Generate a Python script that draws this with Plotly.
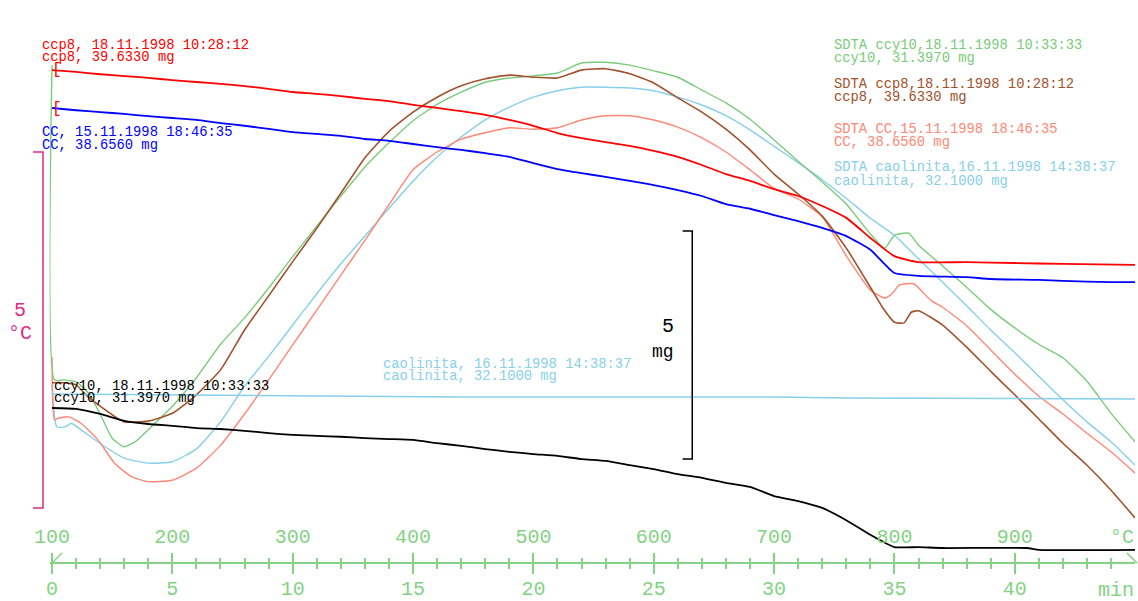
import plotly.graph_objects as go

W, H = 1138, 601

# ---------------- data ----------------
# heating programme: 100 °C at 0 min, 20 K/min
T0 = 100.0
RATE = 20.0

# SDTA ccy10 (°C, relative)
t_sdta_ccy10 = [0, 0.1, 0.5, 1, 1.5, 2, 2.5, 3, 3.5, 4, 5, 6, 7, 8, 9, 10, 11, 12, 13, 14, 15, 16, 17, 18, 19, 20,
                21, 22, 23, 24, 25, 26, 27, 28, 29, 30, 31, 32, 33, 34, 34.6, 35, 35.6, 36, 37, 38, 39, 40, 41, 42,
                43, 44, 45]
sdta_ccy10 = [6.22, 1.80, 1.80, 1.77, 1.62, 1.32, 0.98, 0.86, 0.94, 1.10, 1.43, 1.83, 2.30, 2.67, 3.09, 3.53, 3.96,
              4.38, 4.79, 5.13, 5.44, 5.67, 5.84, 5.98, 6.04, 6.07, 6.11, 6.25, 6.26, 6.22, 6.14, 6.05, 5.87, 5.69,
              5.46, 5.17, 4.87, 4.58, 4.27, 3.85, 3.65, 3.83, 3.86, 3.69, 3.40, 3.10, 2.79, 2.53, 2.30, 2.11, 1.78,
              1.33, 0.93]

# SDTA ccp8
t_sdta_ccp8 = [0, 0.5, 1, 1.5, 2, 2.5, 3, 4, 5, 6, 7, 8, 9, 10, 11, 12, 13, 14, 15, 16, 17, 18, 19, 20, 21, 22, 23,
               24, 25, 26, 27, 28, 29, 30, 31, 32, 33, 34, 34.5, 35, 35.4, 35.7, 36, 37, 38, 39, 40, 41, 42, 43, 44,
               45]
sdta_ccp8 = [1.76, 1.76, 1.73, 1.56, 1.43, 1.31, 1.21, 1.22, 1.33, 1.59, 1.94, 2.50, 2.98, 3.46, 3.93, 4.42, 4.92,
             5.29, 5.56, 5.77, 5.93, 6.03, 6.08, 6.05, 6.04, 6.15, 6.17, 6.10, 5.97, 5.76, 5.56, 5.32, 5.03, 4.69,
             4.41, 4.10, 3.65, 3.10, 2.82, 2.61, 2.60, 2.75, 2.77, 2.57, 2.26, 1.92, 1.59, 1.25, 0.91, 0.60, 0.25,
             -0.14]

# SDTA CC
t_sdta_cc = [0, 0.1, 0.25, 0.7, 1.2, 1.9, 2.6, 3.3, 4, 5, 6, 7, 8, 9, 10, 11, 12, 13, 14, 15, 16, 17, 18, 19, 20,
             21, 22, 23, 24, 25, 26, 27, 28, 29, 30, 31, 32, 33, 34, 34.6, 34.9, 35.2, 35.8, 36.5, 37, 38, 39, 40,
             41, 42, 43, 44, 45]
sdta_cc = [2.12, 1.24, 1.26, 1.28, 1.19, 0.96, 0.63, 0.44, 0.37, 0.39, 0.56, 0.88, 1.32, 1.80, 2.29, 2.78, 3.27,
           3.76, 4.26, 4.75, 5.00, 5.18, 5.27, 5.34, 5.32, 5.34, 5.45, 5.51, 5.51, 5.45, 5.35, 5.20, 5.00, 4.75,
           4.49, 4.34, 4.09, 3.54, 3.06, 2.95, 3.01, 3.13, 3.15, 2.92, 2.82, 2.56, 2.22, 1.88, 1.57, 1.32, 1.05,
           0.79, 0.49]

# SDTA caolinita
t_sdta_cao = [0, 0.2, 0.55, 0.8, 1.2, 2.2, 3, 4, 5, 6, 7, 8, 9, 10, 11, 12, 13, 14, 15, 16, 17, 18, 19, 20, 21, 22,
              23, 24, 25, 26, 27, 28, 29, 30, 31, 32, 33, 34, 35, 36, 37, 38, 39, 40, 41, 42, 43, 44, 45]
sdta_cao = [1.73, 1.14, 1.14, 1.19, 1.10, 0.86, 0.70, 0.63, 0.65, 0.83, 1.21, 1.71, 2.13, 2.57, 3.01, 3.43, 3.82,
            4.21, 4.59, 4.93, 5.21, 5.45, 5.63, 5.77, 5.86, 5.91, 5.91, 5.90, 5.86, 5.77, 5.66, 5.51, 5.31, 5.08,
            4.85, 4.61, 4.35, 4.07, 3.83, 3.50, 3.17, 2.84, 2.50, 2.18, 1.85, 1.52, 1.21, 0.93, 0.60]

# TG ccp8 (mg)
t_tg_ccp8 = [0, 1, 2, 3, 4, 5, 6, 7, 8, 9, 10, 11, 12, 13, 14, 15, 16, 17, 18, 19, 20, 21, 22, 23, 24, 25, 26, 27,
             28, 29, 30, 31, 32, 33, 34, 35, 36, 38, 40, 42, 45]
tg_ccp8 = [39.63, 39.59, 39.54, 39.50, 39.46, 39.41, 39.37, 39.33, 39.28, 39.22, 39.15, 39.11, 39.06, 39.00, 38.95,
           38.87, 38.80, 38.73, 38.65, 38.54, 38.41, 38.25, 38.14, 38.05, 37.97, 37.86, 37.73, 37.55, 37.35, 37.20,
           37.02, 36.87, 36.65, 36.39, 35.95, 35.55, 35.42, 35.42, 35.40, 35.38, 35.36]

# TG CC
t_tg_cc = [0, 1, 2, 3, 4, 5, 6, 7, 8, 9, 10, 11, 12, 13, 14, 15, 16, 17, 18, 19, 20, 21, 22, 23, 24, 25, 26, 27, 28,
           29, 30, 31, 32, 33, 34, 35, 36, 38, 39, 41, 42, 44, 45]
tg_cc = [38.80, 38.75, 38.71, 38.67, 38.62, 38.58, 38.54, 38.47, 38.41, 38.34, 38.27, 38.23, 38.19, 38.12, 38.08,
         38.01, 37.94, 37.88, 37.81, 37.73, 37.59, 37.46, 37.37, 37.29, 37.20, 37.11, 37.00, 36.87, 36.69, 36.59,
         36.45, 36.32, 36.17, 35.99, 35.69, 35.18, 35.12, 35.09, 35.05, 35.03, 35.01, 34.98, 34.98]

# TG ccy10
t_tg_ccy10 = [0, 1, 2, 3, 4, 5, 6, 7, 8, 9, 10, 11, 12, 13, 14, 15, 16, 17, 18, 19, 20, 21, 22, 23, 24, 25, 26, 27,
              28, 29, 30, 31, 32, 33, 34, 35, 36, 37, 40.5, 41, 45]
tg_ccy10 = [32.22, 32.20, 32.09, 31.94, 31.87, 31.83, 31.78, 31.76, 31.72, 31.67, 31.63, 31.61, 31.59, 31.56, 31.54,
            31.52, 31.45, 31.39, 31.32, 31.26, 31.21, 31.17, 31.10, 31.06, 30.97, 30.88, 30.77, 30.69, 30.58, 30.49,
            30.29, 30.18, 30.03, 29.76, 29.44, 29.17, 29.17, 29.15, 29.15, 29.11, 29.11]

# TG caolinita
t_tg_cao = [0, 8, 12, 17, 30, 33, 45]
tg_cao = [32.53, 32.50, 32.48, 32.46, 32.46, 32.44, 32.42]

# tick labels
min_ticks = [0, 5, 10, 15, 20, 25, 30, 35, 40]
temp_ticks = [100, 200, 300, 400, 500, 600, 700, 800, 900]

# scale bars
SCALE_DTA = 5   # °C
SCALE_TG = 5    # mg

# ---------------- style ----------------
GREEN_AX = "#84d284"
GREEN = "#7acb7a"
BROWN = "#a0522d"
SALMON = "#ff8775"
SKY = "#87cfea"
RED = "#ff0000"
BLUE = "#0000ff"
BLACK = "#000000"
MAGENTA = "#dc2a86"
MONO = "Liberation Mono"

def px(x):
    return x / W

def py(y):
    return 1 - y / H

X_LEFT_PX, X_RIGHT_PX = 49.6, 1135.0
AXIS_Y_PX = 563
t_min, t_max = -0.1, 44.995

fig = go.Figure()

def add(t, v, color, width, yaxis, shape="spline"):
    fig.add_trace(go.Scatter(x=t, y=v, mode="lines",
                             line=dict(color=color, width=width, shape=shape, smoothing=0.5),
                             yaxis=yaxis, xaxis="x", hoverinfo="skip", showlegend=False))

add(t_tg_cao, tg_cao, SKY, 1.5, "y2", "linear")
add(t_sdta_cao, sdta_cao, SKY, 1.4, "y")
add(t_sdta_cc, sdta_cc, SALMON, 1.4, "y")
add(t_sdta_ccy10, sdta_ccy10, GREEN, 1.4, "y")
add(t_sdta_ccp8, sdta_ccp8, BROWN, 1.6, "y")
add(t_tg_ccy10, tg_ccy10, BLACK, 1.8, "y2")
add(t_tg_cc, tg_cc, BLUE, 1.8, "y2")
add(t_tg_ccp8, tg_ccp8, RED, 1.8, "y2")

dom = [px(X_LEFT_PX), px(X_RIGHT_PX)]
pos = py(AXIS_Y_PX)
tickfont = dict(family=MONO, size=20, color=GREEN_AX)

fig.update_layout(
    width=W, height=H, autosize=False,
    margin=dict(l=0, r=0, t=0, b=0, pad=0, autoexpand=False),
    paper_bgcolor="white", plot_bgcolor="white",
    showlegend=False, hovermode=False,
    xaxis=dict(domain=dom, range=[t_min, t_max], anchor="free", position=pos, side="bottom",
               automargin=False,
               showline=True, linecolor=GREEN_AX, linewidth=1.5,
               tickmode="array", tickvals=min_ticks, ticktext=[str(v) for v in min_ticks],
               ticks="outside", ticklen=10, tickwidth=1.5, tickcolor=GREEN_AX,
               minor=dict(tickmode="linear", tick0=0, dtick=1, ticks="outside", ticklen=5,
                          tickwidth=1.5, tickcolor=GREEN_AX),
               tickfont=tickfont, showgrid=False, zeroline=False, ticklabelstandoff=-3),
    xaxis2=dict(domain=dom, range=[T0 + RATE * t_min, T0 + RATE * t_max], overlaying="x",
                anchor="free", position=pos, side="top", automargin=False,
                showline=False,
                tickmode="array", tickvals=temp_ticks, ticktext=[str(v) for v in temp_ticks],
                ticks="outside", ticklen=10, tickwidth=1.5, tickcolor=GREEN_AX,
                minor=dict(tickmode="linear", tick0=T0, dtick=RATE, ticks="outside", ticklen=5,
                           tickwidth=1.5, tickcolor=GREEN_AX),
                tickfont=tickfont, showgrid=False, zeroline=False, ticklabelstandoff=2),
    yaxis=dict(domain=[0, 1], range=[-1.306, 7.135], visible=False, automargin=False),
    yaxis2=dict(domain=[0, 1], range=[27.988, 41.168], overlaying="y", visible=False, automargin=False),
)

# dummy trace to activate xaxis2
fig.add_trace(go.Scatter(x=[T0], y=[None], xaxis="x2", yaxis="y", mode="lines",
                         hoverinfo="skip", showlegend=False))

ann = []

def text(x, y, s, color, size=13.8, anchor="left", family=MONO):
    ann.append(dict(x=px(x), y=py(y), xref="paper", yref="paper", text=s, showarrow=False,
                    xanchor=anchor, yanchor="middle", font=dict(family=family, size=size, color=color)))

# curve labels
text(40, 45, "ccp8, 18.11.1998 10:28:12", RED)
text(40, 57, "ccp8, 39.6330 mg", RED)
text(40, 132, "CC, 15.11.1998 18:46:35", BLUE)
text(40, 145, "CC, 38.6560 mg", BLUE)
text(52, 386, "ccy10, 18.11.1998 10:33:33", BLACK)
text(52, 398, "ccy10, 31.3970 mg", BLACK)
text(381, 364, "caolinita, 16.11.1998 14:38:37", SKY)
text(381, 376, "caolinita, 32.1000 mg", SKY)

text(832, 45, "SDTA ccy10,18.11.1998 10:33:33", GREEN)
text(832, 58, "ccy10, 31.3970 mg", GREEN)
text(832, 85, "SDTA ccp8,18.11.1998 10:28:12", BROWN)
text(832, 98, "ccp8, 39.6330 mg", BROWN)
text(832, 129, "SDTA CC,15.11.1998 18:46:35", SALMON)
text(832, 142, "CC, 38.6560 mg", SALMON)
text(832, 168, "SDTA caolinita,16.11.1998 14:38:37", SKY)
text(832, 182, "caolinita, 32.1000 mg", SKY)

# curve start markers
text(50, 70, "[", RED, size=16)
text(50, 109, "[", RED, size=16)

# axis unit labels
text(1136, 537, "°C", GREEN_AX, size=20, anchor="right")
text(1136, 590, "min", GREEN_AX, size=20, anchor="right")

# scale-bar labels
text(676, 326, str(SCALE_TG), BLACK, size=20, anchor="right")
text(676, 352, "mg", BLACK, size=18, anchor="right")
text(20, 310, str(SCALE_DTA), MAGENTA, size=20, anchor="center")
text(20, 334, "°C", MAGENTA, size=20, anchor="center")

fig.update_layout(annotations=ann)

shapes = []
# DTA scale bar (°C) on left
shapes.append(dict(type="path", xref="paper", yref="y",
                   path=f"M {px(33)},{SCALE_DTA} L {px(43)},{SCALE_DTA} L {px(43)},0 L {px(33)},0",
                   line=dict(color=MAGENTA, width=1.5)))
# TG scale bar (mg)
tg_top = 36.10
shapes.append(dict(type="path", xref="x", yref="y2",
                   path=f"M 26.2,{tg_top} L 26.6,{tg_top} L 26.6,{tg_top - SCALE_TG} L 26.2,{tg_top - SCALE_TG}",
                   line=dict(color=BLACK, width=1.5)))
# axis start mark and end arrow
shapes.append(dict(type="line", xref="paper", yref="paper", x0=px(52), y0=py(563), x1=px(62), y1=py(553),
                   line=dict(color=GREEN_AX, width=1.5)))
shapes.append(dict(type="line", xref="paper", yref="paper", x0=px(1127), y0=py(553), x1=px(1137), y1=py(563),
                   line=dict(color=GREEN_AX, width=1.5)))
fig.update_layout(shapes=shapes)

fig.write_html("out.html", config={"displayModeBar": False},
               post_script="document.body.style.margin='0';document.body.style.overflow='hidden';")
